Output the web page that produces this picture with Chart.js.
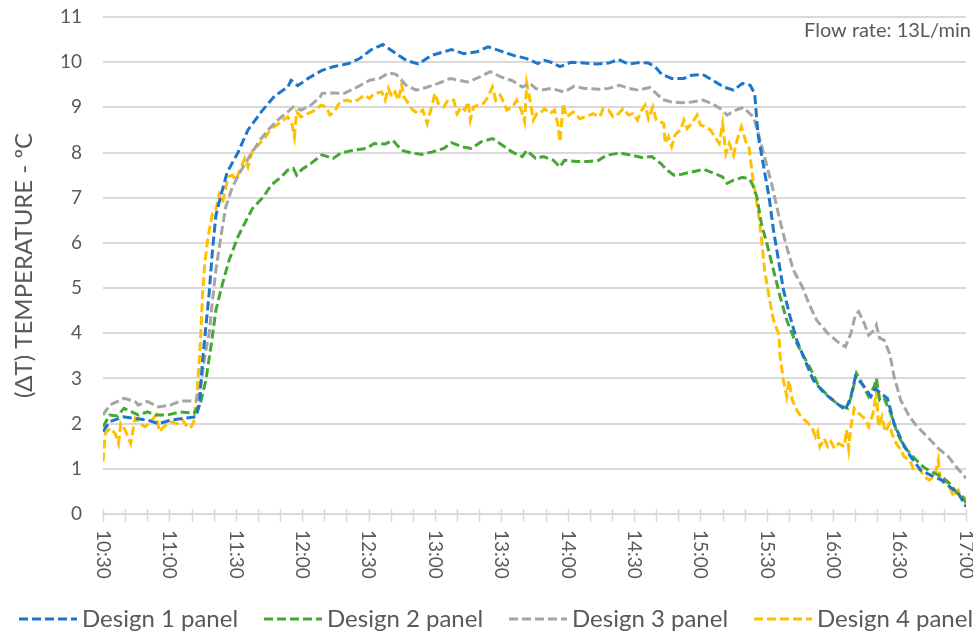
<!DOCTYPE html>
<html>
<head>
<meta charset="utf-8">
<script src="https://cdn.jsdelivr.net/npm/chart.js@4.4.0/dist/chart.umd.min.js"></script>
<style>
  html, body { margin: 0; padding: 0; background: #fff; }
  canvas { display: block; }
</style>
</head>
<body>
<canvas id="myChart" width="973" height="634"></canvas>
<script>
// minutes after 10:30, temperature difference (deg C)
const design1 = [[0,1.82],[3,2.04],[9,2.15],[14,2.12],[20,2.08],[25,2.0],[31,2.08],[37,2.12],[42,2.15],[43.5,2.4],[45,3.4],[46.5,4.15],[48,4.9],[49.5,5.85],[51,6.6],[53,7.0],[56,7.55],[61,8.0],[65.5,8.5],[71.5,8.9],[77.5,9.25],[83.5,9.45],[85,9.6],[88,9.48],[93,9.65],[99,9.82],
  [104,9.9],[111,9.97],[116,10.08],[121,10.27],[126.5,10.39],[132.5,10.19],[137,10.04],[142.5,9.96],[148.5,10.15],[154,10.23],[157.5,10.28],[163,10.19],[169,10.23],[174,10.34],[179.5,10.25],[185.5,10.15],[191.5,10.08],
  [196.5,9.97],[199.5,10.04],[202.5,10.0],[206.5,9.9],[211.5,10.0],[217.5,9.98],[223,9.96],[228.5,9.98],[233,10.06],[237.5,9.96],[242,9.99],[246.5,9.98],[249.5,9.9],[252.5,9.73],[257,9.64],[262.5,9.64],[266,9.71],[271,9.73],[275.5,9.6],[280.5,9.45],[285,9.38],[289,9.53],[292.5,9.49],
  [294.5,9.3],[296,8.4],[298.5,7.7],[301,7.02],[303,6.28],[305.5,5.55],[307.5,4.96],[310.5,4.37],[313.5,3.85],[317.5,3.37],[321,2.96],[326,2.67],[330.5,2.49],[335.5,2.3],[338,2.6],[340,3.04],[344,2.82],[347,2.6],[349,2.78],[351.5,2.67],[354.5,2.56],[357.5,2.0],[361.5,1.56],[365,1.27],[369.5,0.97],[374,0.86],[379,0.75],[383.5,0.57],[386.5,0.46],[390,0.16]];

const design2 = [[0,1.93],[3,2.19],[6.5,2.17],[9.5,2.34],[13,2.26],[16,2.19],[20,2.26],[24,2.19],[29,2.19],[35,2.26],[41,2.23],[44,2.45],[46.5,2.96],[49,3.78],[51,4.51],[54,5.1],[57,5.62],[61,6.14],[64,6.43],[67.5,6.76],[72.5,7.02],[76,7.28],[80.5,7.46],[83.5,7.61],[86,7.65],[87.5,7.5],[90,7.63],[94,7.76],[99,7.95],
  [104,7.87],[107.5,7.99],[113,8.05],[119,8.09],[122.5,8.2],[127.5,8.19],[131,8.27],[135,8.05],[139.5,7.99],[144,7.96],[148.5,8.01],[154,8.09],[157.5,8.22],[162,8.13],[166.5,8.09],[171,8.24],[176,8.31],[180.5,8.16],[185,8.01],[189.5,7.91],[191.5,8.05],[195.5,7.87],
  [199,7.91],[203.5,7.83],[206.5,7.68],[208.5,7.83],[214,7.8],[219,7.8],[224,7.83],[227.5,7.94],[233.5,7.99],[239,7.94],[243.5,7.89],[248,7.91],[252,7.76],[255,7.61],[258,7.5],[261.5,7.52],[266,7.57],[271.5,7.63],[276,7.54],[280,7.46],[282,7.32],[285,7.39],[289,7.45],[292,7.42],
  [293.5,7.3],[295.5,7.02],[297.5,6.43],[300,5.99],[303,5.4],[306,4.81],[309,4.29],[312,3.92],[316,3.55],[320,3.19],[323.5,2.82],[328,2.6],[332.5,2.41],[336.5,2.34],[338.5,2.67],[340.5,3.11],[343,2.89],[346,2.6],[348.5,2.82],[349.5,3.0],[351,2.52],[353,2.56],[356,2.23],[359,1.78],[362,1.49],[366,1.27],[370.5,1.05],[374,0.94],[379,0.83],[382.5,0.68],[385.5,0.49],[388.5,0.38],[390,0.24]];

const design3 = [[0,2.19],[3,2.41],[9.5,2.56],[14.5,2.49],[16,2.41],[20,2.49],[25,2.37],[30.5,2.41],[35,2.5],[42,2.5],[44,2.82],[46.5,3.63],[48,4.0],[49.5,4.73],[51,5.4],[53.5,6.21],[55.5,6.8],[58.5,7.24],[62.5,7.61],[67,7.98],[71.5,8.31],[74.5,8.5],[79,8.72],[83.5,8.9],[86,9.01],[89.5,8.94],[94,9.05],[98,9.22],
  [99,9.31],[104,9.32],[109,9.31],[114.5,9.44],[120.5,9.6],[125,9.64],[129,9.76],[132.5,9.73],[137,9.49],[141.5,9.38],[146,9.44],[151.5,9.53],[157,9.64],[160.5,9.6],[165,9.56],[170.5,9.68],[175,9.79],[179.5,9.68],[185,9.59],[189.5,9.45],[193,9.53],[195.5,9.42],
  [198,9.38],[202.5,9.42],[208.5,9.34],[213,9.47],[217.5,9.42],[224,9.4],[228.5,9.42],[233.5,9.49],[237.5,9.42],[242,9.38],[247,9.44],[250,9.31],[253,9.17],[257,9.12],[261.5,9.1],[266,9.12],[271,9.16],[275,9.09],[279,8.97],[282,8.83],[286,8.94],[289.5,9.0],[292.5,8.85],
  [294,8.79],[296,8.45],[299,7.9],[302.5,7.24],[305.5,6.58],[308.5,5.99],[312,5.4],[316,5.03],[319,4.66],[322.5,4.29],[327.5,4.0],[332,3.81],[335.5,3.7],[338,4.0],[340,4.4],[341.5,4.48],[344,4.22],[346,3.96],[348.5,4.07],[349.5,4.18],[351,3.89],[353,3.85],[355.5,3.55],[357.5,3.04],[360.5,2.52],[364.5,2.15],[368,1.93],[372.5,1.71],[377.5,1.45],[382,1.27],[385.5,1.05],[390,0.79]];

const design4 = [[0,1.16],[1,1.78],[3.3,1.9],[5.5,1.78],[7,1.56],[8,2.0],[10,1.86],[12.5,1.56],[14.5,2.12],[17,2.0],[19,1.93],[21.5,2.04],[24,2.19],[25.5,1.82],[27.5,1.93],[30.5,2.04],[33.5,2.0],[36,2.08],[38,1.93],[39.5,1.9],[41,2.04],[42.5,2.67],[44,3.78],[45,4.88],[46,5.55],[47.5,6.14],[49.5,6.65],[51,6.72],[52.5,7.06],[54,6.87],[56.5,7.46],[58.5,7.5],[60,7.39],[62.5,7.68],[64,7.87],[65.5,7.68],[67.5,8.05],[70,8.16],[73,8.31],[75.5,8.5],[78.5,8.61],[81.5,8.72],[83.5,8.79],[85.5,8.61],[86.5,8.35],[87.5,8.9],[89.5,8.79],[92.5,8.86],[96,8.94],[98.5,9.05],
  [101,9.01],[102.5,8.83],[104.5,8.9],[107,9.12],[110,9.16],[113,9.12],[115,9.16],[118,9.27],[120.5,9.2],[122.5,9.31],[126,9.34],[127.5,9.16],[129,9.42],[130.5,9.23],[132,9.34],[133.5,9.16],[135,9.51],[136,9.23],[138,9.09],[140,8.94],[142.5,8.86],[144.5,8.94],[146.5,8.64],[148.5,9.01],[150,9.31],[151.5,9.09],[154,9.01],[156,9.17],[158.5,9.16],[160,8.86],[162,9.01],[163.5,8.94],[165,9.12],[166,8.72],[167.5,9.01],[169.5,9.05],[172,9.09],[174,9.23],[176,9.45],[177.5,9.16],[179.5,9.27],[181,9.12],[182.5,8.94],[185,9.01],[187,9.16],[189,8.94],[190.5,8.68],[191.5,9.53],[193,9.16],[194.5,8.72],[196,8.86],
  [197.5,8.86],[199.5,8.97],[202,8.86],[204,8.94],[205.5,8.64],[206.5,8.24],[208,9.09],[209.5,8.79],[212.5,8.9],[215.5,8.75],[218.5,8.8],[221.5,8.86],[224.5,8.79],[226,8.97],[228.5,8.94],[230.5,8.79],[233,8.86],[235,8.97],[237.5,8.83],[239.5,8.86],[241.5,8.72],[243.5,8.94],[245,9.05],[246.5,8.75],[248.5,9.01],[250,8.72],[252,8.68],[253.5,8.64],[254,8.2],[255.5,8.35],[257,8.13],[258.5,8.39],[261,8.5],[262.5,8.72],[264,8.53],[266,8.64],[268.5,8.83],[270,8.61],[272.5,8.57],[274.5,8.5],[277,8.31],[278.5,8.2],[280,8.64],[281.5,7.98],[283,8.2],[285,7.94],[286.5,8.27],[288.5,8.57],[290.5,8.24],[292,8.09],
  [293,7.68],[294,7.32],[296,6.73],[297.5,6.14],[299,5.4],[301,4.81],[303,4.29],[305.5,3.96],[306,3.48],[307.5,2.96],[309,2.6],[310,2.96],[311.5,2.52],[313.5,2.3],[316,2.12],[318,2.04],[320.5,1.9],[322,1.71],[323,1.82],[324,1.49],[326,1.67],[327.5,1.49],[329,1.6],[330.5,1.45],[332.5,1.56],[335,1.49],[336,1.86],[337,1.45],[338,1.93],[339.5,2.34],[341.5,2.23],[344,2.12],[346,1.93],[348,2.23],[349.5,2.71],[350.5,1.93],[352,2.15],[353.5,1.82],[355.5,2.0],[356.5,1.78],[358.5,1.56],[360.5,1.42],[362,1.27],[364.5,1.19],[366.5,0.97],[369,1.01],[371,0.83],[373.5,0.75],[376,0.86],[377.5,1.19],[378.5,0.68],[380.5,0.75],[382.5,0.6],[384.5,0.38],[386.5,0.53],[388.5,0.31],[390,0.38]];

const seriesNames = ['Design 1 panel', 'Design 2 panel', 'Design 3 panel', 'Design 4 panel'];
const seriesColors = ['#1D75CC', '#45A833', '#A5A5A5', '#FFC000'];
const xTickLabels = ['10:30','11:00','11:30','12:00','12:30','13:00','13:30','14:00','14:30','15:00','15:30','16:00','16:30','17:00'];
const noteText = 'Flow rate: 13L/min';

const textColor = '#595959';
const fontFamily = 'Lato, "Open Sans", sans-serif';
const dash = [9, 4];

// own drawing for rotated time labels, crossed tick marks, legend and note
const decorations = {
    id: 'decorations',
    afterDraw(chart) {
        const ctx = chart.ctx;
        const xs = chart.scales.x;
        const base = chart.chartArea.bottom;
        ctx.save();

        ctx.strokeStyle = '#D9D9D9';
        ctx.lineWidth = 1.5;
        xs.ticks.forEach(t => {
            const px = Math.round(xs.getPixelForValue(t.value)) + 0.5;
            ctx.beginPath();
            ctx.moveTo(px, base - 5);
            ctx.lineTo(px, base + 8);
            ctx.stroke();
        });

        ctx.fillStyle = textColor;
        ctx.font = '19px ' + fontFamily;
        ctx.textAlign = 'left';
        ctx.textBaseline = 'middle';
        xTickLabels.forEach((lab, i) => {
            const px = xs.getPixelForValue(i * 30);
            ctx.save();
            ctx.translate(px, base + 16);
            ctx.rotate(Math.PI / 2);
            ctx.fillText(lab, 0, 0);
            ctx.restore();
        });

        // legend
        const legendY = 619;
        ctx.font = '24px ' + fontFamily;
        chart.data.datasets.forEach((ds, i) => {
            const x0 = 19 + i * 245;
            ctx.strokeStyle = ds.borderColor;
            ctx.lineWidth = 3;
            ctx.setLineDash(dash);
            ctx.beginPath();
            ctx.moveTo(x0, legendY);
            ctx.lineTo(x0 + 58, legendY);
            ctx.stroke();
            ctx.setLineDash([]);
            ctx.fillStyle = textColor;
            ctx.fillText(ds.label, x0 + 63, legendY);
        });

        ctx.font = '20px ' + fontFamily;
        ctx.textAlign = 'right';
        ctx.fillText(noteText, 971, 31);
        ctx.restore();
    }
};

var ctx = document.getElementById('myChart').getContext('2d');
var myChart = new Chart(ctx, {
    type: 'line',
    data: {
        datasets: [design1, design2, design3, design4].map((pts, i) => ({
            label: seriesNames[i],
            data: pts.map(p => ({ x: p[0], y: p[1] })),
            borderColor: seriesColors[i],
            backgroundColor: seriesColors[i],
            borderWidth: 3,
            borderDash: dash,
            pointRadius: 0,
            tension: 0,
            fill: false
        }))
    },
    options: {
        responsive: false,
        devicePixelRatio: 1,
        animation: false,
        layout: { padding: { top: 17, right: 7, left: 0, bottom: 0 } },
        plugins: {
            legend: { display: false },
            tooltip: { enabled: false }
        },
        scales: {
            x: {
                type: 'linear',
                min: 0,
                max: 390,
                ticks: { display: false, stepSize: 10 },
                grid: { display: true, drawOnChartArea: false, drawTicks: false },
                border: { display: true, color: '#D9D9D9', width: 2 },
                afterFit: scale => { scale.height = 120; }
            },
            y: {
                min: 0,
                max: 11,
                ticks: {
                    stepSize: 1,
                    padding: 21,
                    color: textColor,
                    font: { family: fontFamily, size: 19 }
                },
                grid: { color: '#D9D9D9', lineWidth: 2, drawTicks: false },
                border: { display: false },
                title: {
                    display: true,
                    text: '(ΔT) TEMPERATURE - ºC',
                    color: textColor,
                    font: { family: fontFamily, size: 24 },
                    padding: { top: 10, bottom: 0 }
                },
                afterFit: scale => {
                    scale.width = 103;
                    scale.paddingTop = 0;
                    scale.paddingBottom = 0;
                }
            }
        }
    },
    plugins: [decorations]
});
</script>
</body>
</html>
